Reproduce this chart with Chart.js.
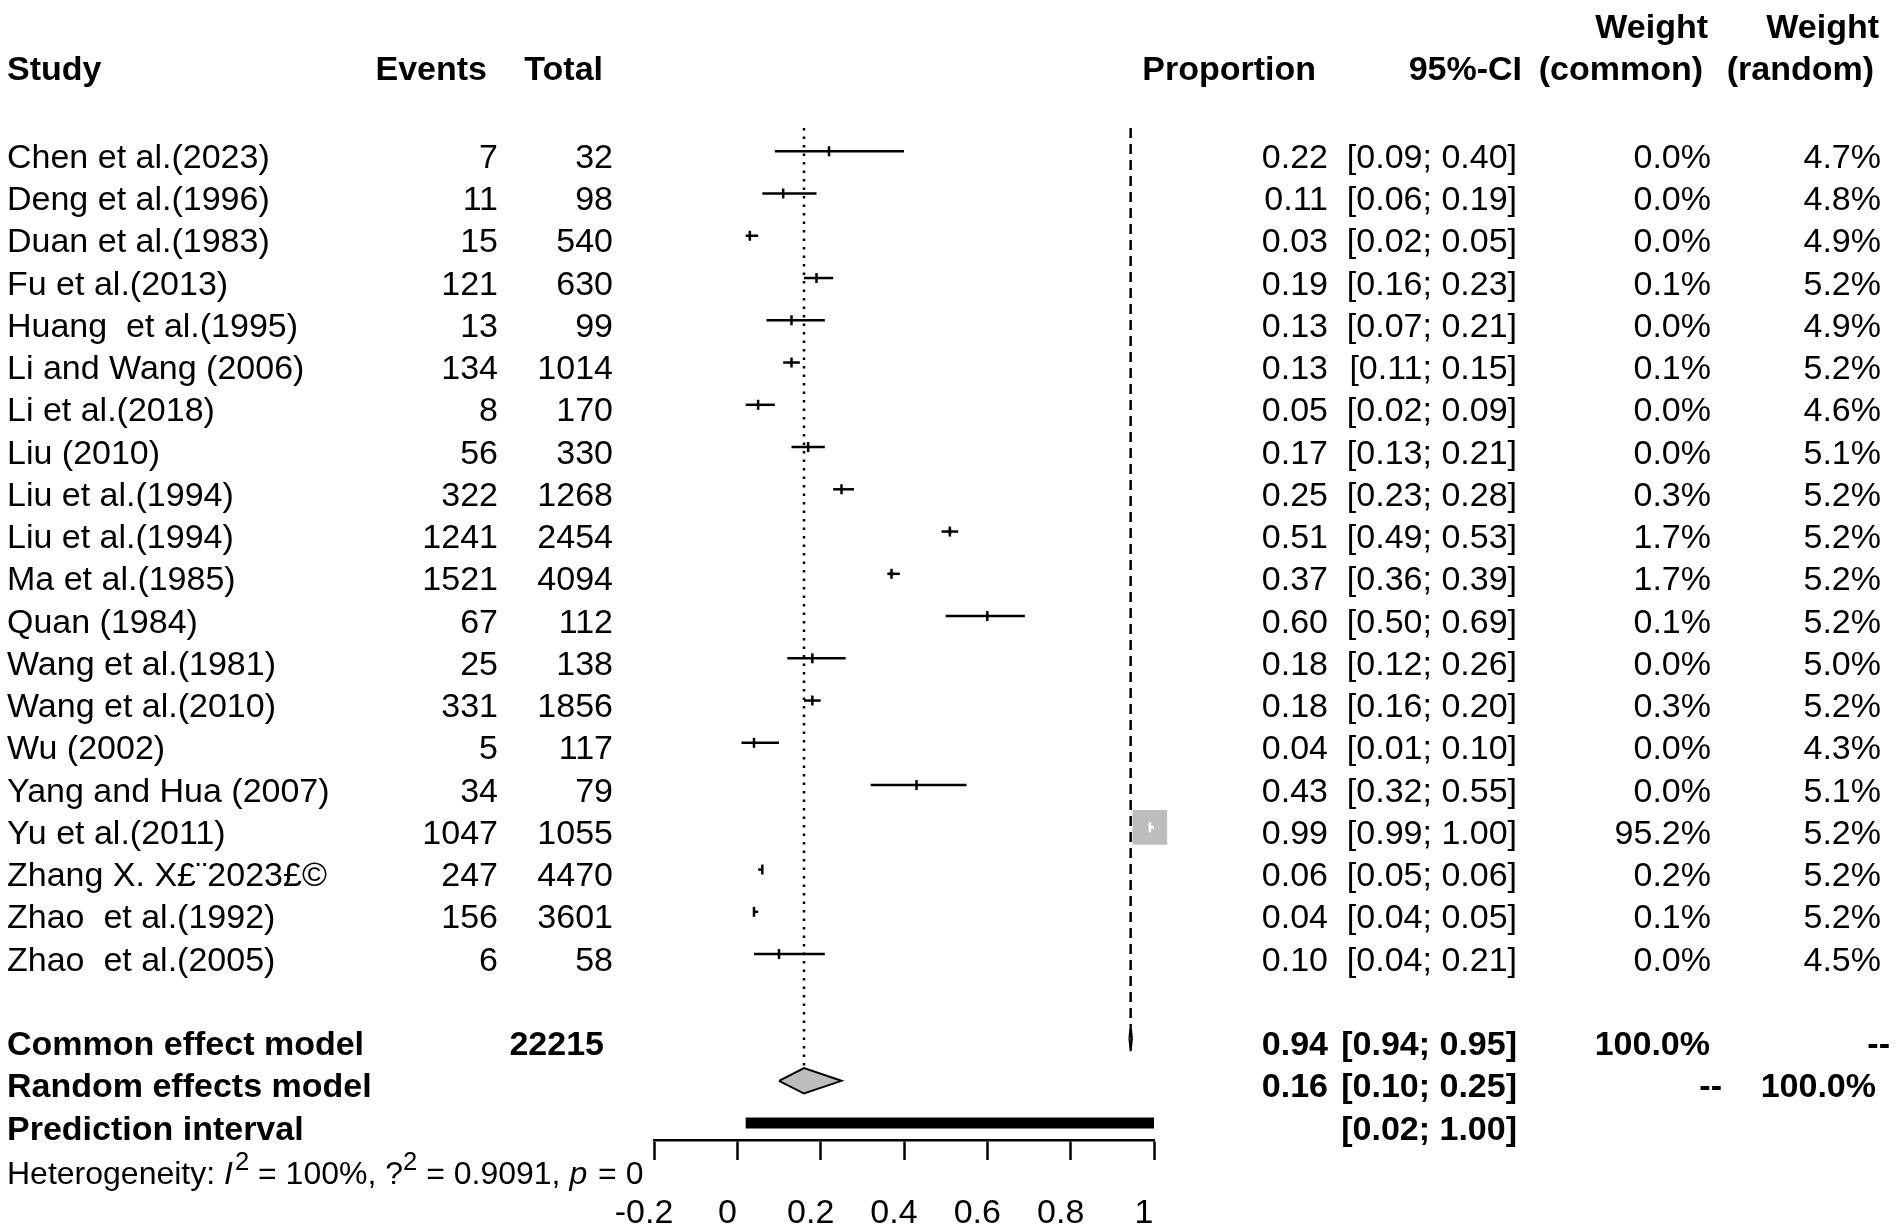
<!DOCTYPE html>
<html>
<head>
<meta charset="utf-8">
<script src="https://cdn.jsdelivr.net/npm/chart.js@4.4.0/dist/chart.umd.min.js"></script>
<style>
html,body{margin:0;padding:0;background:#fff;overflow:hidden}
#wrap{position:relative;width:1898px;height:1228px}
</style>
</head>
<body>
<div id="wrap"><canvas id="c"></canvas></div>
<script>
// ---------- data ----------
const studies = ['Chen et al.(2023)','Deng et al.(1996)','Duan et al.(1983)','Fu et al.(2013)','Huang  et al.(1995)',
  'Li and Wang (2006)','Li et al.(2018)','Liu (2010)','Liu et al.(1994)','Liu et al.(1994)','Ma et al.(1985)',
  'Quan (1984)','Wang et al.(1981)','Wang et al.(2010)','Wu (2002)','Yang and Hua (2007)','Yu et al.(2011)',
  'Zhang X. X\u00a3\u00a82023\u00a3\u00a9','Zhao  et al.(1992)','Zhao  et al.(2005)'];
const events = [7,11,15,121,13,134,8,56,322,1241,1521,67,25,331,5,34,1047,247,156,6];
const totals = [32,98,540,630,99,1014,170,330,1268,2454,4094,112,138,1856,117,79,1055,4470,3601,58];
const proportion = [0.22,0.11,0.03,0.19,0.13,0.13,0.05,0.17,0.25,0.51,0.37,0.60,0.18,0.18,0.04,0.43,0.99,0.06,0.04,0.10];
const ciLower = [0.09,0.06,0.02,0.16,0.07,0.11,0.02,0.13,0.23,0.49,0.36,0.50,0.12,0.16,0.01,0.32,0.99,0.05,0.04,0.04];
const ciUpper = [0.40,0.19,0.05,0.23,0.21,0.15,0.09,0.21,0.28,0.53,0.39,0.69,0.26,0.20,0.10,0.55,1.00,0.06,0.05,0.21];
const weightCommon = [0.0,0.0,0.0,0.1,0.0,0.1,0.0,0.0,0.3,1.7,1.7,0.1,0.0,0.3,0.0,0.0,95.2,0.2,0.1,0.0];
const weightRandom = [4.7,4.8,4.9,5.2,4.9,5.2,4.6,5.1,5.2,5.2,5.2,5.2,5.0,5.2,4.3,5.1,5.2,5.2,5.2,4.5];

const summaryLabels = ['Common effect model','Random effects model','Prediction interval'];
const summaryEst = [0.944,0.16,null];
const summaryLower = [0.941,0.10,0.02];
const summaryUpper = [0.947,0.25,1.00];
const summaryWCommon = ['100.0%','--',''];
const summaryWRandom = ['--','100.0%',''];
const totalAll = 22215;

const tickValues = [-0.2,0,0.2,0.4,0.6,0.8,1];
const tickLabels = ['-0.2','0','0.2','0.4','0.6','0.8','1'];

const hetParts = [
  ['Heterogeneity: ','n'],['I','i'],['2','s'],[' = 100%, ','n'],['?','n'],['2','s'],[' = 0.9091, ','n'],['p','i'],[' = 0','n']
];

// ---------- layout helpers ----------
const ROW_COMMON = 21, ROW_RANDOM = 22, ROW_PRED = 23, ROW_HET = 24;
const DH = 0.3;          // diamond half height in rows
const REF_TOP = -0.55;   // top of reference lines
const FONT = '"Liberation Sans", Arial, Helvetica, sans-serif';
const MAXSQ = 24.5;      // rect radius for the largest weight

const rows = studies.map((_, i) => i);

const ciData = [];
rows.forEach(i => {
  ciData.push({x: ciLower[i], y: i}, {x: ciUpper[i], y: i}, {x: null, y: null});
});
const estData = rows.map(i => ({x: proportion[i], y: i}));
const sqRadius = rows.map(i => MAXSQ * Math.sqrt(weightCommon[i] / 95.2));

function diamond(k, row) {
  return [
    {x: summaryLower[k], y: row}, {x: summaryEst[k], y: row - DH},
    {x: summaryUpper[k], y: row}, {x: summaryEst[k], y: row + DH},
    {x: summaryLower[k], y: row}
  ];
}

function insideSquare(chart, i) {
  const xs = chart.scales.x;
  const w = xs.getPixelForValue(ciUpper[i]) - xs.getPixelForValue(ciLower[i]);
  return w < sqRadius[i] * Math.SQRT2;
}

// ---------- text plugin ----------
const textPlugin = {
  id: 'forestText',
  afterDraw(chart) {
    const ctx = chart.ctx;
    const ys = chart.scales.y;
    const put = (s, x, r, align, bold, off) => {
      ctx.font = (bold ? 'bold ' : '') + '34px ' + FONT;
      ctx.textAlign = align;
      ctx.textBaseline = 'alphabetic';
      ctx.fillStyle = '#000';
      ctx.fillText(s, x, ys.getPixelForValue(r) + (off === undefined ? 16.5 : off));
    };
    ctx.save();
    // headers
    put('Weight', 1708, -3, 'right', true, 13.5);
    put('Weight', 1879, -3, 'right', true, 13.5);
    put('Study', 7, -2, 'left', true, 13.5);
    put('Events', 487, -2, 'right', true, 13.5);
    put('Total', 603, -2, 'right', true, 13.5);
    put('Proportion', 1316, -2, 'right', true, 13.5);
    put('95%-CI', 1522, -2, 'right', true, 13.5);
    put('(common)', 1703, -2, 'right', true, 13.5);
    put('(random)', 1874, -2, 'right', true, 13.5);
    // studies
    rows.forEach(i => {
      put(studies[i], 7, i, 'left', false);
      put(String(events[i]), 498, i, 'right', false);
      put(String(totals[i]), 613, i, 'right', false);
      put(proportion[i].toFixed(2), 1328, i, 'right', false);
      put('[' + ciLower[i].toFixed(2) + '; ' + ciUpper[i].toFixed(2) + ']', 1517, i, 'right', false);
      put(weightCommon[i].toFixed(1) + '%', 1711, i, 'right', false);
      put(weightRandom[i].toFixed(1) + '%', 1881, i, 'right', false);
    });
    // summaries
    const srows = [ROW_COMMON, ROW_RANDOM, ROW_PRED];
    summaryLabels.forEach((lab, k) => {
      const r = srows[k];
      put(lab, 7, r, 'left', true);
      if (k === 0) put(String(totalAll), 604, r, 'right', true);
      if (summaryEst[k] !== null) put(summaryEst[k].toFixed(2), 1328, r, 'right', true);
      put('[' + summaryLower[k].toFixed(2) + '; ' + summaryUpper[k].toFixed(2) + ']', 1517, r, 'right', true);
      if (summaryWCommon[k]) put(summaryWCommon[k], summaryWCommon[k] === '--' ? 1722 : 1710, r, 'right', true);
      if (summaryWRandom[k]) put(summaryWRandom[k], summaryWRandom[k] === '--' ? 1890 : 1876, r, 'right', true);
    });
    // heterogeneity
    let x = 7;
    const hb = ys.getPixelForValue(ROW_HET) + 19;
    const fs = 32;
    ctx.textAlign = 'left';
    hetParts.forEach(([s, st]) => {
      let f, dy = 0;
      if (st === 'i') f = 'italic ' + fs + 'px ' + FONT;
      else if (st === 's') { f = (fs * 0.8) + 'px ' + FONT; dy = -14; }
      else f = fs + 'px ' + FONT;
      ctx.font = f;
      ctx.fillText(s, x, hb + dy);
      x += ctx.measureText(s).width + (st === 'i' ? 2 : 0);
    });
    ctx.restore();
  }
};

// ---------- chart ----------
Chart.defaults.font.family = FONT;
new Chart(document.getElementById('c'), {
  type: 'scatter',
  data: {
    datasets: [
      { // study squares
        data: estData, order: 4, showLine: false, clip: false,
        pointStyle: 'rect', backgroundColor: '#bdbdbd', borderWidth: 0,
        pointRadius: sqRadius, pointHoverRadius: sqRadius
      },
      { // confidence intervals
        type: 'line', data: ciData, order: 3, spanGaps: false, clip: false,
        borderColor: '#000', borderWidth: 2.5, pointRadius: 0, borderCapStyle: 'butt',
        segment: { borderColor: c => insideSquare(c.chart, Math.floor(c.p0DataIndex / 3)) ? '#fff' : '#000' }
      },
      { // point estimate ticks
        data: estData, order: 2, showLine: false, clip: false,
        pointStyle: 'line', rotation: 90, pointRadius: 5, pointHoverRadius: 5,
        pointBorderWidth: 2.5,
        pointBorderColor: c => (c.dataIndex !== undefined && insideSquare(c.chart, c.dataIndex)) ? '#fff' : '#000'
      },
      { // common effect diamond
        type: 'line', data: diamond(0, ROW_COMMON), order: 1, fill: 'shape', clip: false,
        backgroundColor: '#bdbdbd', borderColor: '#000', borderWidth: 2, pointRadius: 0, tension: 0
      },
      { // random effects diamond
        type: 'line', data: diamond(1, ROW_RANDOM), order: 1, fill: 'shape', clip: false,
        backgroundColor: '#bdbdbd', borderColor: '#000', borderWidth: 2, pointRadius: 0, tension: 0
      },
      { // prediction interval
        type: 'line', data: [{x: summaryLower[2], y: ROW_PRED}, {x: summaryUpper[2], y: ROW_PRED}], order: 1, clip: false,
        borderColor: '#000', borderWidth: 11, pointRadius: 0, borderCapStyle: 'butt'
      },
      { // common effect reference line
        type: 'line', data: [{x: summaryEst[0], y: REF_TOP}, {x: summaryEst[0], y: ROW_COMMON - DH}], order: 6, clip: false,
        borderColor: '#000', borderWidth: 2.5, borderDash: [10, 6], pointRadius: 0
      },
      { // random effects reference line
        type: 'line', data: [{x: summaryEst[1], y: REF_TOP}, {x: summaryEst[1], y: ROW_RANDOM - DH}], order: 6, clip: false,
        borderColor: '#000', borderWidth: 2.5, borderDash: [2.5, 6], pointRadius: 0
      }
    ]
  },
  options: {
    responsive: true, maintainAspectRatio: false, animation: false, devicePixelRatio: 1,
    layout: { padding: { left: 654, right: 744, top: 3, bottom: 0 } },
    plugins: { legend: { display: false }, tooltip: { enabled: false } },
    scales: {
      x: {
        type: 'linear', min: -0.2, max: 1, position: 'bottom',
        afterBuildTicks: s => { s.ticks = tickValues.map(v => ({value: v})); },
        afterFit: s => { s.height = 88; },
        grid: { drawOnChartArea: false, drawTicks: true, tickLength: 20, tickWidth: 2.5, tickColor: '#000' },
        border: { display: true, color: '#000', width: 2.5 },
        ticks: { padding: 33.5, labelOffset: -10, color: '#000', font: { size: 34, family: FONT }, maxRotation: 0, autoSkip: false,
          callback: (v, i) => tickLabels[i] }
      },
      y: {
        type: 'linear', reverse: true, min: -3, max: 23.40, display: false
      }
    }
  },
  plugins: [textPlugin]
});
</script>
</body>
</html>
